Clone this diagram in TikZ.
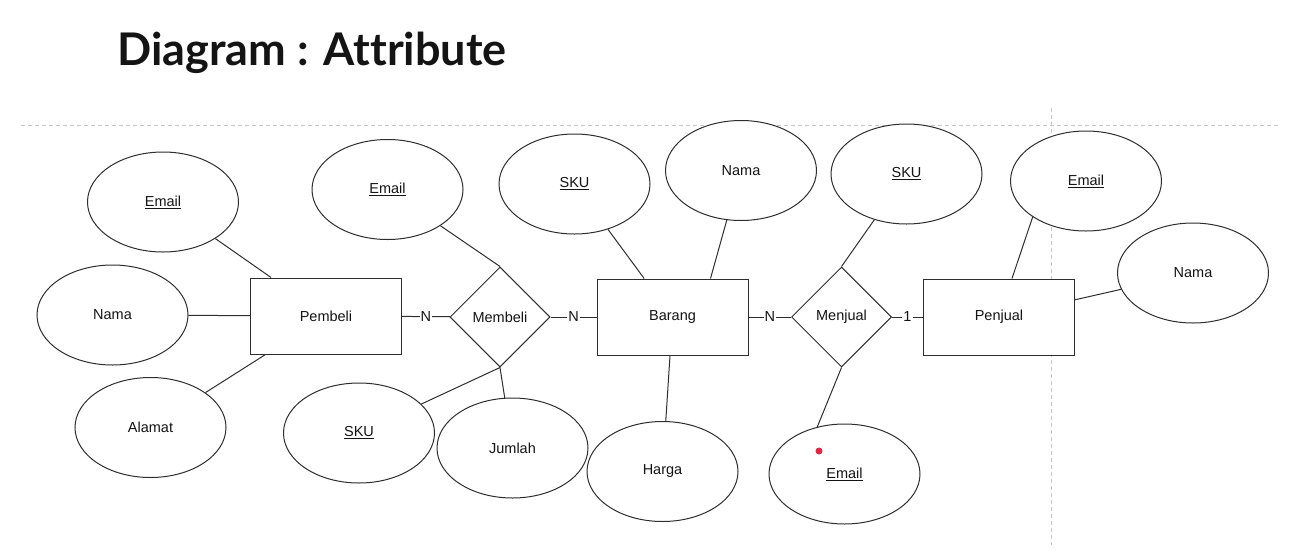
\documentclass[tikz,border=0pt]{standalone}
\usepackage{fontspec}
\setmainfont{Liberation Sans}
\newfontfamily\titlefont{Lato}[Ligatures=NoCommon]
\usetikzlibrary{shapes.geometric}
\definecolor{dotred}{RGB}{226,38,70}

\begin{document}
\begin{tikzpicture}
  [x=1pt,y=-1pt,line width=1pt,
   every node/.style={font=\fontsize{14.5}{17}\selectfont,text=black!92},
   entity/.style={draw=black!82,fill=white,minimum width=151pt,minimum height=76pt,inner sep=0pt},
   relation/.style={draw=black!82,fill=white,diamond,minimum width=100pt,minimum height=100pt,inner sep=0pt},
   attr/.style={draw=black!82,fill=white,ellipse,minimum width=151pt,minimum height=100pt,inner sep=0pt},
   card/.style={fill=white,inner sep=1pt},
   link/.style={draw=black!82},
   guide/.style={draw=black!22,line width=0.8pt,dash pattern=on 4pt off 3pt}]
  \useasboundingbox (0,0) rectangle (1307,552);

  \node[anchor=base west,inner sep=0pt,font=\titlefont\bfseries\fontsize{45}{50}\selectfont] (title) at (117,65) {Diagram : Attribute};

  \coordinate (hl) at (21,125);
  \coordinate (hr) at (1278,125);
  \coordinate (vt) at (1051,108);
  \coordinate (vb) at (1051,545);
  \draw[guide] (hl) -- (hr);
  \draw[guide] (vt) -- (vb);

  \node[entity] (pembeli) at (326,316) {Pembeli};
  \node[entity] (barang) at (672.5,317) {Barang};
  \node[entity] (penjual) at (999,317) {Penjual};

  \node[relation] (membeli) at (500,317) {Membeli};
  \node[relation] (menjual) at (841.5,317) {Menjual};

  \node[attr] (emailP) at (163,202) {\underline{Email}};
  \node[attr] (namaP) at (112.5,315) {Nama};
  \node[attr] (alamatP) at (150.5,427.5) {Alamat};
  \node[attr] (emailM) at (387.5,189.5) {\underline{Email}};
  \node[attr] (skuM) at (359,433) {\underline{SKU}};
  \node[attr] (jumlahM) at (512.5,448) {Jumlah};
  \node[attr] (skuB) at (574.5,184) {\underline{SKU}};
  \node[attr] (namaB) at (741,170.5) {Nama};
  \node[attr] (hargaB) at (662.5,471.5) {Harga};
  \node[attr] (skuJ) at (906.5,174) {\underline{SKU}};
  \node[attr] (emailJb) at (844.5,474) {\underline{Email}};
  \node[attr] (emailJ) at (1086,181) {\underline{Email}};
  \node[attr] (namaJ) at (1193,273) {Nama};

  \node[circle,fill=dotred,minimum size=7pt,inner sep=0pt] (dot) at (819,451) {};

  \draw[link] (emailP) -- (pembeli);
  \draw[link] (namaP) -- (pembeli);
  \draw[link] (alamatP) -- (pembeli);
  \draw[link] (pembeli) -- node[card] {N} (membeli);
  \draw[link] (membeli.north) -- (emailM);
  \draw[link] (membeli.south) -- (skuM);
  \draw[link] (membeli.south) -- (jumlahM);
  \draw[link] (membeli) -- node[card] {N} (barang);
  \draw[link] (skuB) -- (barang);
  \draw[link] (namaB.254) -- ([xshift=38pt]barang.north);
  \draw[link] (hargaB) -- (barang);
  \draw[link] (barang) -- node[card] {N} (menjual);
  \draw[link] (menjual.north) -- (skuJ);
  \draw[link] (menjual.south) -- (emailJb.120);
  \draw[link] (menjual) -- node[card] {1} (penjual);
  \draw[link] (emailJ.214) -- ([xshift=13pt]penjual.north);
  \draw[link] (namaJ) -- (penjual);
\end{tikzpicture}
\end{document}
